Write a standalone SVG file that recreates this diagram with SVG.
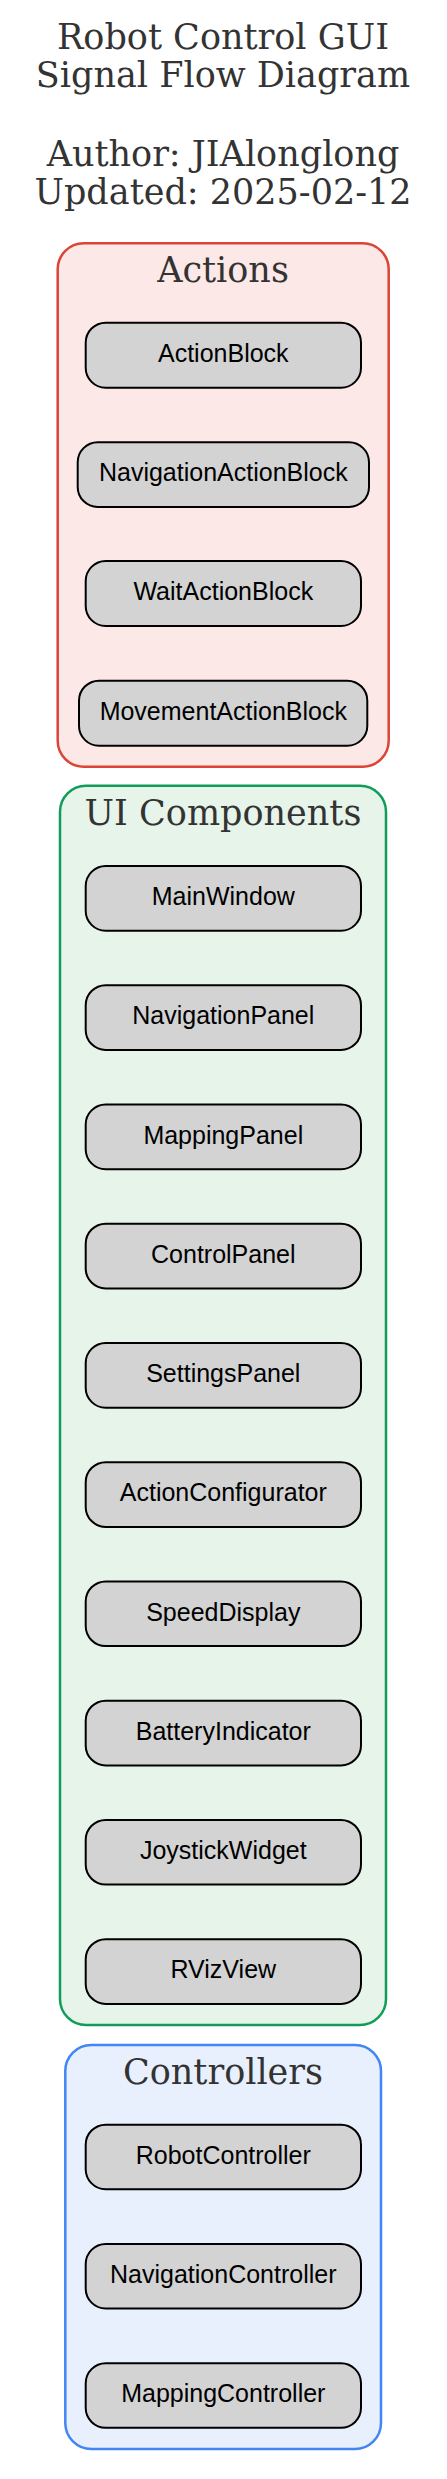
<svg xmlns="http://www.w3.org/2000/svg" width="447" height="2479" viewBox="0 0 447 2479">
<style>
.title{font-family:"DejaVu Serif",serif;font-size:35px;fill:#333333;text-anchor:middle}
.clabel{font-family:"DejaVu Serif",serif;font-size:35px;fill:#333333;text-anchor:middle}
.node rect{fill:#d3d3d3;stroke:#000000;stroke-width:2}
.node text{font-family:"Liberation Sans",Arial,sans-serif;font-size:25px;fill:#000000;text-anchor:middle}
.act{fill:#fce8e6;stroke:#db4437;stroke-width:2.5}
.ui{fill:#e6f4ea;stroke:#0f9d58;stroke-width:2.5}
.ctl{fill:#e8f0fe;stroke:#4285f4;stroke-width:2.5}
</style>
<rect width="447" height="2479" fill="#ffffff"/>
<g id="graph-title">
<text class="title" x="223" y="49.3">Robot Control GUI</text>
<text class="title" x="223" y="87.3">Signal Flow Diagram</text>
<text class="title" x="223" y="165.7">Author: JIAlonglong</text>
<text class="title" x="223" y="204">Updated: 2025-02-12</text>
</g>
<g id="cluster-actions">
<rect class="act" x="57.7" y="243.3" width="331" height="523.4" rx="26"/>
<text class="clabel" x="223" y="282.3">Actions</text>
</g>
<g id="cluster-ui">
<rect class="ui" x="60" y="785.7" width="326" height="1239.3" rx="26"/>
<text class="clabel" x="223" y="825">UI Components</text>
</g>
<g id="cluster-controllers">
<rect class="ctl" x="65.3" y="2045" width="315.7" height="404" rx="26"/>
<text class="clabel" x="223" y="2084">Controllers</text>
</g>
<g id="ActionBlock" class="node"><rect x="85.7" y="322.7" width="275.3" height="65" rx="20"/><text x="223.3" y="362">ActionBlock</text></g>
<g id="NavigationActionBlock" class="node"><rect x="77.7" y="442.3" width="291.3" height="64.6" rx="20"/><text x="223.3" y="481.4">NavigationActionBlock</text></g>
<g id="WaitActionBlock" class="node"><rect x="85.7" y="561" width="275.3" height="65" rx="20"/><text x="223.3" y="600.3">WaitActionBlock</text></g>
<g id="MovementActionBlock" class="node"><rect x="79" y="680.7" width="288.3" height="65" rx="20"/><text x="223.3" y="720">MovementActionBlock</text></g>
<g id="MainWindow" class="node"><rect x="85.7" y="866" width="275.3" height="64.7" rx="20"/><text x="223.3" y="905.2">MainWindow</text></g>
<g id="NavigationPanel" class="node"><rect x="85.7" y="985.2" width="275.3" height="64.7" rx="20"/><text x="223.3" y="1024.4">NavigationPanel</text></g>
<g id="MappingPanel" class="node"><rect x="85.7" y="1104.5" width="275.3" height="64.7" rx="20"/><text x="223.3" y="1143.7">MappingPanel</text></g>
<g id="ControlPanel" class="node"><rect x="85.7" y="1223.7" width="275.3" height="64.7" rx="20"/><text x="223.3" y="1262.9">ControlPanel</text></g>
<g id="SettingsPanel" class="node"><rect x="85.7" y="1343" width="275.3" height="64.7" rx="20"/><text x="223.3" y="1382.2">SettingsPanel</text></g>
<g id="ActionConfigurator" class="node"><rect x="85.7" y="1462.2" width="275.3" height="64.7" rx="20"/><text x="223.3" y="1501.4">ActionConfigurator</text></g>
<g id="SpeedDisplay" class="node"><rect x="85.7" y="1581.4" width="275.3" height="64.7" rx="20"/><text x="223.3" y="1620.6">SpeedDisplay</text></g>
<g id="BatteryIndicator" class="node"><rect x="85.7" y="1700.7" width="275.3" height="64.7" rx="20"/><text x="223.3" y="1739.9">BatteryIndicator</text></g>
<g id="JoystickWidget" class="node"><rect x="85.7" y="1819.9" width="275.3" height="64.7" rx="20"/><text x="223.3" y="1859.1">JoystickWidget</text></g>
<g id="RVizView" class="node"><rect x="85.7" y="1939.2" width="275.3" height="64.7" rx="20"/><text x="223.3" y="1978.4">RVizView</text></g>
<g id="RobotController" class="node"><rect x="85.7" y="2124.7" width="275.3" height="64.5" rx="20"/><text x="223.3" y="2163.8">RobotController</text></g>
<g id="NavigationController" class="node"><rect x="85.7" y="2244" width="275.3" height="64.5" rx="20"/><text x="223.3" y="2283.1">NavigationController</text></g>
<g id="MappingController" class="node"><rect x="85.7" y="2363.3" width="275.3" height="64.5" rx="20"/><text x="223.3" y="2402.4">MappingController</text></g>
<g id="connectors"></g>
</svg>
